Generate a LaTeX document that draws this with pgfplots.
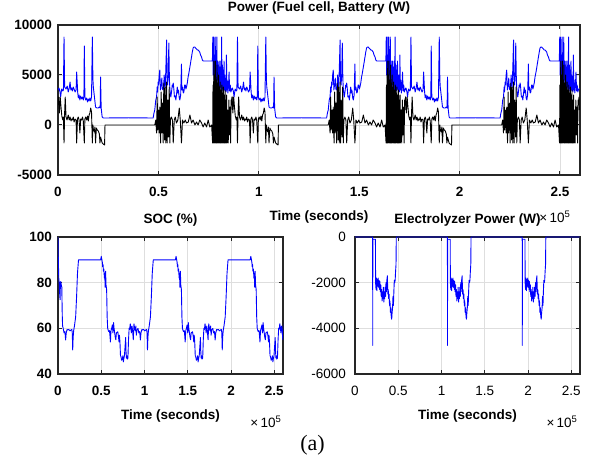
\documentclass[border=0pt]{standalone}
\usepackage{fontspec}
\setmainfont{Liberation Sans}
\newfontfamily\capfont{Liberation Serif}
\usepackage{pgfplots}
\usepackage{pgfplotstable}
\pgfplotsset{compat=1.18}
\definecolor{gridc}{RGB}{222,222,222}
\definecolor{axc}{RGB}{38,38,38}
\newcommand\fs{\fontsize{13.5bp}{16bp}\selectfont}

% Fuel cell power, one day (time in 1e5 s, W)
\pgfplotstableread{
t p
0.000 3500
0.005 3700
0.010 3300
0.013 2800
0.018 3600
0.024 3400
0.027 3500
0.030 8800
0.033 3800
0.040 3600
0.046 3900
0.051 3300
0.056 3700
0.060 4300
0.064 3500
0.068 3700
0.072 3400
0.076 3800
0.080 3600
0.085 3300
0.090 3500
0.093 5300
0.098 3300
0.101 2700
0.105 3000
0.109 2500
0.113 2900
0.118 2600
0.122 2800
0.126 2500
0.129 2900
0.131 7900
0.134 2800
0.138 2500
0.143 2700
0.147 2300
0.151 2600
0.155 2400
0.159 2700
0.163 2400
0.167 2800
0.171 8800
0.174 4500
0.176 3800
0.181 2900
0.187 1800
0.194 1700
0.201 1700
0.206 1800
0.210 1700
0.212 4800
0.215 1700
0.220 800
0.225 700
0.350 720
0.474 700
0.478 1200
0.482 1500
0.487 2500
0.491 2800
0.494 3800
0.496 3300
0.499 4300
0.501 4000
0.504 5000
0.507 5500
0.510 3500
0.512 3800
0.515 4000
0.517 4700
0.520 3600
0.524 3500
0.527 4200
0.529 5000
0.532 3800
0.534 3700
0.537 5500
0.541 8500
0.543 4500
0.546 4000
0.549 5000
0.552 8200
0.555 4500
0.557 3700
0.560 3000
0.562 2800
0.566 3400
0.569 4000
0.572 3800
0.574 4200
0.577 3600
0.580 2800
0.584 2900
0.587 2500
0.590 3000
0.594 3800
0.597 3200
0.600 3500
0.604 2700
0.607 2500
0.611 3000
0.615 6100
0.617 3500
0.620 3800
0.624 3200
0.627 3300
0.631 4000
0.634 4000
0.637 3600
0.640 3800
0.644 4200
0.648 4800
0.652 5200
0.657 5800
0.661 6300
0.665 6800
0.669 7300
0.673 7700
0.677 7800
0.681 7800
0.685 7700
0.690 7600
0.694 7500
0.698 7500
0.702 7400
0.706 7300
0.710 7000
0.715 6800
0.719 6500
0.723 6400
0.769 6400
0.771 8800
0.773 5000
0.775 8800
0.777 4500
0.779 7000
0.781 4200
0.783 8800
0.785 5000
0.787 6400
0.789 4000
0.791 8800
0.793 4500
0.795 6400
0.797 3800
0.799 6000
0.801 4000
0.803 6400
0.805 3600
0.807 5800
0.809 3800
0.811 6400
0.813 3500
0.815 8800
0.817 3600
0.819 6000
0.821 3400
0.823 5500
0.825 3600
0.827 6400
0.829 3500
0.831 5000
0.833 3400
0.835 4500
0.837 3300
0.839 7000
0.841 3500
0.843 4500
0.846 3200
0.849 3800
0.852 5300
0.855 3400
0.858 4000
0.861 3300
0.864 3500
0.869 3700
}\fctab

% Battery power, one day
\pgfplotstableread{
t p
0.000 2000
0.003 2800
0.007 1200
0.011 2800
0.015 1800
0.019 900
0.024 500
0.027 800
0.030 -1800
0.033 1200
0.036 2800
0.040 800
0.045 500
0.051 1000
0.056 500
0.060 800
0.065 400
0.068 600
0.072 500
0.076 800
0.080 300
0.085 600
0.090 500
0.093 -1800
0.097 600
0.101 800
0.105 500
0.109 -800
0.113 600
0.118 500
0.122 800
0.126 400
0.131 -1800
0.134 600
0.138 800
0.143 500
0.147 900
0.151 400
0.155 1000
0.159 1200
0.163 1700
0.167 1300
0.171 -1800
0.174 0
0.176 -400
0.181 -700
0.184 -200
0.187 -1800
0.191 -300
0.196 -500
0.201 -600
0.206 -900
0.209 -1800
0.212 -1200
0.216 -1500
0.220 -1800
0.225 -1900
0.232 -2000
0.234 0
0.482 0
0.487 500
0.491 -800
0.494 2800
0.497 -500
0.501 1500
0.504 -800
0.507 1800
0.511 -1800
0.514 3300
0.517 -800
0.521 2200
0.524 -1800
0.527 4200
0.531 -1500
0.534 3800
0.537 -1800
0.541 4300
0.544 -1800
0.547 2500
0.551 -1200
0.554 3800
0.557 -1800
0.560 500
0.565 800
0.570 500
0.574 -1800
0.579 500
0.584 800
0.590 200
0.597 500
0.604 1700
0.609 500
0.615 -1800
0.620 500
0.627 200
0.634 500
0.640 200
0.649 300
0.657 1000
0.665 200
0.673 500
0.682 0
0.690 300
0.698 0
0.706 500
0.715 200
0.723 -200
0.731 200
0.740 -200
0.748 500
0.756 -200
0.765 0
0.770 -1800
0.772 4000
0.774 -1800
0.776 6400
0.778 -1800
0.780 5000
0.782 -1800
0.784 6400
0.786 -1800
0.788 4500
0.790 -1800
0.792 6000
0.794 -1800
0.796 4200
0.798 -1800
0.800 5000
0.802 -1800
0.804 3800
0.806 -1800
0.808 4300
0.810 -1800
0.812 3500
0.814 -1800
0.816 4000
0.818 -1800
0.820 3200
0.822 -1800
0.824 3800
0.826 -1800
0.828 3000
0.830 -1800
0.832 3500
0.834 -1800
0.836 2500
0.838 -1800
0.840 3000
0.842 -1800
0.845 1500
0.848 -1800
0.851 2500
0.854 -1000
0.857 1800
0.860 -1800
0.862 2500
0.864 2000
0.867 2800
0.869 1500
}\battab

% SOC: start of the run
\pgfplotstableread{
t s
0.000 100
0.004 90
0.009 82
0.013 80.5
0.018 76
0.024 72.5
0.028 80
0.032 80.5
0.038 79
0.044 78
0.049 66
0.053 61
0.060 60
}\socinit

% SOC: one repeating day
\pgfplotstableread{
t s
0.060 60
0.070 58
0.080 58.6
0.088 54.9
0.095 58
0.105 59.5
0.112 59.3
0.125 59.5
0.139 58.9
0.150 59.3
0.160 59.5
0.165 58
0.170 50.5
0.175 56
0.181 59
0.190 61
0.204 65
0.215 74
0.225 84
0.237 90
0.300 90
0.400 90
0.493 90
0.500 91.5
0.505 90.5
0.512 89
0.516 87
0.520 88
0.525 85
0.530 86
0.536 82
0.540 84
0.545 78
0.550 85
0.555 79
0.562 77
0.568 65
0.574 60
0.585 58.6
0.595 59
0.600 57
0.606 54
0.612 59
0.620 60
0.628 61.5
0.635 58
0.642 62.5
0.648 60
0.655 58
0.662 56
0.668 55
0.675 58
0.690 58.5
0.697 57
0.705 54
0.710 57
0.716 54
0.722 48
0.728 47.6
0.735 46
0.743 46.5
0.750 48
0.755 45.3
0.762 47
0.768 48
0.775 52
0.782 56
0.786 50
0.790 47
0.795 48
0.800 46.5
0.808 47
0.815 55
0.822 60
0.828 59.5
0.835 62
0.842 60
0.848 58
0.855 61
0.862 59
0.870 55
0.878 62
0.885 60
0.892 59
0.900 61
0.905 57
0.912 59
0.924 60
}\soctab

% Electrolyzer power, one day
\pgfplotstableread{
t p
0.000 0
0.204 0
0.205 -4750
0.206 -100
0.236 -100
0.238 -2000
0.243 -2300
0.248 -1800
0.253 -2350
0.258 -1850
0.263 -2150
0.268 -1800
0.273 -2200
0.278 -1900
0.283 -2300
0.288 -1950
0.293 -2400
0.298 -2100
0.303 -2600
0.308 -2300
0.313 -2800
0.318 -2400
0.323 -2700
0.328 -2200
0.333 -2850
0.338 -2400
0.343 -2700
0.348 -2200
0.353 -2600
0.358 -2000
0.363 -2400
0.368 -1900
0.374 -1700
0.379 -2500
0.384 -2300
0.389 -2700
0.394 -2500
0.399 -3000
0.404 -2800
0.409 -3300
0.414 -3100
0.419 -3500
0.424 -3600
0.429 -3300
0.434 -3100
0.439 -2600
0.444 -3000
0.449 -2400
0.454 -1900
0.459 -2000
0.464 -1900
0.469 -1500
0.474 -1200
0.477 0
0.869 0
}\eltab

\pgfplotsset{
  mat/.style={
    scale only axis,
    clip mode=individual,
    xmin=0, xmax=2.6,
    xtick={0,0.5,1,1.5,2,2.5},
    grid=major,
    major grid style={gridc, line width=0.8bp},
    axis line style={axc, line width=1.3bp},
    tick align=inside,
    major tick length=4bp,
    tick style={axc, line width=1bp},
    scaled ticks=false,
    /pgf/number format/1000 sep={},
    /pgf/number format/assume math mode=true,
    tick label style={font=\fs\bfseries},
    x tick label style={yshift=-8.5bp},
    y tick label style={xshift=-2.5bp},
    title style={font=\fs\bfseries, yshift=1.5bp},
    xlabel style={font=\fs\bfseries, at={(axis description cs:0.5,0)}, anchor=center, yshift=-42bp},
  },
  fc/.style={blue, line width=0.9bp, line join=round},
  bat/.style={black, line width=0.9bp, line join=round},
}

\begin{document}
\begin{tikzpicture}
% Top: power
\begin{axis}[mat,
  at={(58bp,288bp)}, anchor=south west,
  width=522bp, height=150bp,
  ymin=-5000, ymax=10000,
  ytick={-5000,0,5000,10000},
  title={Power (Fuel cell, Battery (W)},
  xlabel={Time (seconds)},
]
\addplot[fc] table[x expr=\thisrow{t}] {\fctab};
\addplot[fc] table[x expr=\thisrow{t}+0.864] {\fctab};
\addplot[fc] table[x expr=\thisrow{t}+1.728] {\fctab};
\addplot[bat] table[x expr=\thisrow{t}] {\battab};
\addplot[bat] table[x expr=\thisrow{t}+0.864] {\battab};
\addplot[bat] table[x expr=\thisrow{t}+1.728] {\battab};
\node[font=\fs, anchor=center] at (axis description cs:0.952,-0.28) {×\,10\textsuperscript{5}};
\end{axis}

% Bottom left: SOC
\begin{axis}[mat,
  at={(58bp,89bp)}, anchor=south west,
  width=225bp, height=137bp,
  ymin=40, ymax=100,
  ytick={40,60,80,100},
  title={SOC (\%)},
  xlabel={Time (seconds)},
]
\addplot[fc] table[x=t, y=s] {\socinit};
\addplot[fc] table[x expr=\thisrow{t}, y=s] {\soctab};
\addplot[fc] table[x expr=\thisrow{t}+0.864, y=s] {\soctab};
\addplot[fc] table[x expr=\thisrow{t}+1.728, y=s] {\soctab};
\node[font=\fs, anchor=center] at (axis description cs:0.924,-0.348) {×\,10\textsuperscript{5}};
\end{axis}

% Bottom right: electrolyzer
\begin{axis}[mat,
  at={(355bp,89bp)}, anchor=south west,
  width=225bp, height=137bp,
  ymin=-6000, ymax=0,
  ytick={-6000,-4000,-2000,0},
  tick label style={font=\fs},
  y tick label style={xshift=-3bp},
  title={Electrolyzer Power (W)},
  xlabel={Time (seconds)},
]
\addplot[fc] table[x expr=\thisrow{t}] {\eltab};
\addplot[fc] table[x expr=\thisrow{t}+0.864] {\eltab};
\addplot[fc] table[x expr=\thisrow{t}+1.728] {\eltab};
\node[font=\fs, anchor=center] at (axis description cs:0.92,-0.348) {×\,10\textsuperscript{5}};
\end{axis}

\node[font=\capfont\fontsize{22bp}{26bp}\selectfont, anchor=center] at (312.5bp,18bp) {(a)};
\pgfresetboundingbox
\path[use as bounding box] (0bp,0bp) rectangle (604bp,463bp);
\end{tikzpicture}
\end{document}
